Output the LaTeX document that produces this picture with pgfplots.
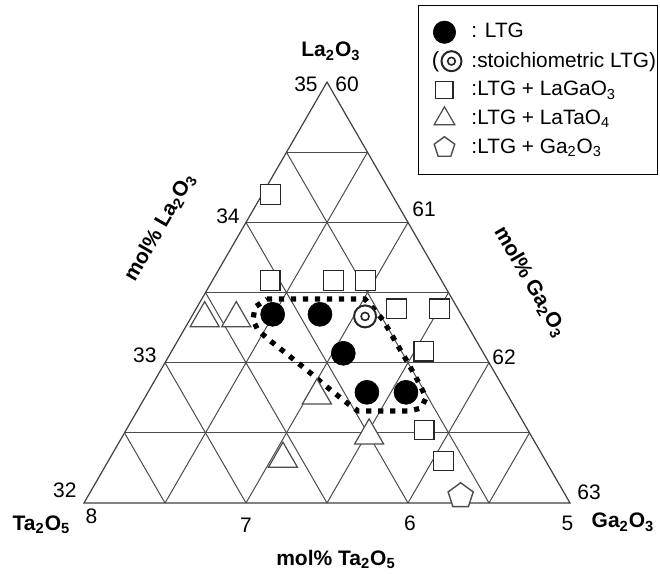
\documentclass[border=0pt]{standalone}
\usepackage{fontspec}
\setmainfont{Liberation Sans}
\usepackage{pgfplots}
\pgfplotsset{compat=1.18}
\usepackage{pgfplotstable}

% ternary data: La = mol% La2O3, Ta = mol% Ta2O5 (Ga2O3 = 100 - La - Ta)
\pgfplotstableread{
La Ta
33.345 6.163
33.345 5.871
33.067 5.866
32.789 5.859
32.789 5.618
}\ltg
\pgfplotstableread{
La Ta
33.33 5.60
}\stoich
\pgfplotstableread{
La Ta
34.20 5.750
33.587 6.057
33.587 5.667
33.587 5.469
33.384 5.380
33.384 5.113
33.082 5.362
32.520 5.640
32.300 5.630
}\lagao
\pgfplotstableread{
La Ta
33.316 6.597
33.316 6.402
32.765 6.180
32.314 6.615
32.480 6.000
}\latao
\pgfplotstableread{
La Ta
32.05 5.65
}\gao
\pgfplotstableread{
La Ta
33.454 6.144
33.454 5.539
33.304 5.502
32.998 5.501
32.841 5.505
32.748 5.515
32.677 5.581
32.656 5.660
32.656 5.981
32.713 6.020
32.827 6.087
32.941 6.147
33.055 6.213
33.169 6.280
33.233 6.310
33.304 6.305
33.397 6.246
33.454 6.144
}\region

\pgfplotsset{
  table/tern/.style={x expr={1-(\thisrow{Ta}-5)/3-(\thisrow{La}-32)/6}, y expr={(\thisrow{La}-32)*0.28867513}},
  legimg/.style={legend image code/.code={\path[draw=none, fill=none] (0bp,0bp) rectangle (25bp,1bp); \draw[##1] plot coordinates {(12.5bp,0bp)};}},
}
\newcommand{\tick}{\fontsize{10.5bp}{12bp}\selectfont}
\newcommand{\ttl}{\fontsize{10.5bp}{12bp}\selectfont\bfseries}

\begin{document}
\begin{tikzpicture}
\begin{axis}[
  x=243bp, y=243bp,
  xmin=-0.17284, xmax=1.18519, ymin=-0.14609, ymax=1.03498,
  hide axis, clip=false,
  legend style={at={(0.6333,0.9913)}, anchor=north west, draw=black, line width=0.5bp,
    font=\fontsize{10.4bp}{12bp}\selectfont, row sep=1.6bp, column sep=1bp,
    inner xsep=0.5bp, inner ysep=7bp, nodes={inner xsep=0bp}},
  legend cell align=left,
]
\path (rel axis cs:0,0) rectangle (rel axis cs:1,1);
% grid
\pgfplotsinvokeforeach{1,2,3,4,5}{
  \draw[black!70, line width=0.5bp] (axis cs:{#1/12},{#1*0.8660254/6}) -- (axis cs:{1-#1/12},{#1*0.8660254/6});
  \draw[black!70, line width=0.5bp] (axis cs:{#1/6},0) -- (axis cs:{(1+#1/6)/2},{(1-#1/6)*0.8660254});
  \draw[black!70, line width=0.5bp] (axis cs:{#1/6},0) -- (axis cs:{#1/12},{#1*0.8660254/6});
}
\draw[black!75, line width=0.6bp] (axis cs:0,0) -- (axis cs:1,0) -- (axis cs:0.5,0.8660254) -- cycle;

% region outline
\addplot[forget plot, black, no marks, line width=2.6bp, dash pattern=on 2.6bp off 3.4bp] table[tern] {\region};

\addplot[only marks, mark=*, mark size=6bp, mark options={fill=black, draw=black, line width=0.3bp},
  legimg, legend image post style={mark size=5.6bp}] table[tern] {\ltg};
\addlegendentry{: LTG}
\addplot[only marks, mark=*, mark size=5.5bp, mark options={fill=white, draw=black!85, line width=1bp},
  legend image code/.code={
    \path[draw=none, fill=none] (0bp,0bp) rectangle (25bp,1bp);
    \node[inner sep=0pt, draw=none, fill=none, font=\fontsize{11bp}{12bp}\selectfont] at (6bp,0.3bp) {(};
    \draw[mark=*, mark size=5bp, mark options={fill=white, draw=black!85, line width=1bp}] plot coordinates {(16bp,0cm)};
    \draw[mark=o, mark size=1.9bp, mark options={draw=black!85, line width=0.8bp}] plot coordinates {(16bp,0cm)};
  }] table[tern] {\stoich};
\addlegendentry{:stoichiometric LTG)}
\addplot[forget plot, only marks, mark=o, mark size=2bp, mark options={draw=black!85, line width=0.8bp}] table[tern] {\stoich};
\addplot[only marks, mark=square*, mark size=4.9bp, mark options={fill=white, draw=black!85, line width=0.6bp},
  legimg, legend image post style={mark size=4.3bp}] table[tern] {\lagao};
\addlegendentry{:LTG + LaGaO\textsubscript{3}}
\addplot[only marks, mark=triangle*, mark size=8.4bp, mark options={fill=white, draw=black!70, line width=0.6bp},
  legimg, legend image post style={mark size=6bp}] table[tern] {\latao};
\addlegendentry{:LTG + LaTaO\textsubscript{4}}
\addplot[only marks, mark=pentagon*, mark size=6.6bp, mark options={fill=white, draw=black!70, line width=0.7bp},
  legimg, legend image post style={mark size=5.4bp}] table[tern] {\gao};
\addlegendentry{:LTG + Ga\textsubscript{2}O\textsubscript{3}}

% tick labels
\node[anchor=base east, inner sep=0pt, font=\tick] at (axis cs:0.4815,0.8463) {35};
\node[anchor=base west, inner sep=0pt, font=\tick] at (axis cs:0.5165,0.8463) {60};
\node[anchor=base east, inner sep=0pt, font=\tick] at (axis cs:0.3210,0.5761) {34};
\node[anchor=base east, inner sep=0pt, font=\tick] at (axis cs:0.1502,0.2881) {33};
\node[anchor=base east, inner sep=0pt, font=\tick] at (axis cs:-0.0144,0.0123) {32};
\node[anchor=base, inner sep=0pt, font=\tick] at (axis cs:0.0154,-0.0412) {8};
\node[anchor=base, inner sep=0pt, font=\tick] at (axis cs:0.3333,-0.0617) {7};
\node[anchor=base, inner sep=0pt, font=\tick] at (axis cs:0.6708,-0.0556) {6};
\node[anchor=base, inner sep=0pt, font=\tick] at (axis cs:0.9949,-0.0556) {5};
\node[anchor=base west, inner sep=0pt, font=\tick] at (axis cs:0.6749,0.5885) {61};
\node[anchor=base west, inner sep=0pt, font=\tick] at (axis cs:0.8395,0.2840) {62};
\node[anchor=base west, inner sep=0pt, font=\tick] at (axis cs:1.0144,0.0062) {63};
% vertex and axis titles
\node[anchor=base, inner sep=0pt, font=\ttl] at (axis cs:0.5082,0.9177) {La\textsubscript{2}O\textsubscript{3}};
\node[anchor=base, inner sep=0pt, font=\ttl] at (axis cs:-0.0874,-0.0556) {Ta\textsubscript{2}O\textsubscript{5}};
\node[anchor=base, inner sep=0pt, font=\ttl] at (axis cs:1.1091,-0.0514) {Ga\textsubscript{2}O\textsubscript{3}};
\node[anchor=base, inner sep=0pt, font=\ttl] at (axis cs:0.5185,-0.1276) {mol\% Ta\textsubscript{2}O\textsubscript{5}};
\node[rotate=60, inner sep=0pt, font=\ttl] at (axis cs:0.1564,0.5679) {mol\% La\textsubscript{2}O\textsubscript{3}};
\node[rotate=-60, inner sep=0pt, font=\ttl] at (axis cs:0.9177,0.4547) {mol\% Ga\textsubscript{2}O\textsubscript{3}};
\end{axis}
\end{tikzpicture}
\end{document}
